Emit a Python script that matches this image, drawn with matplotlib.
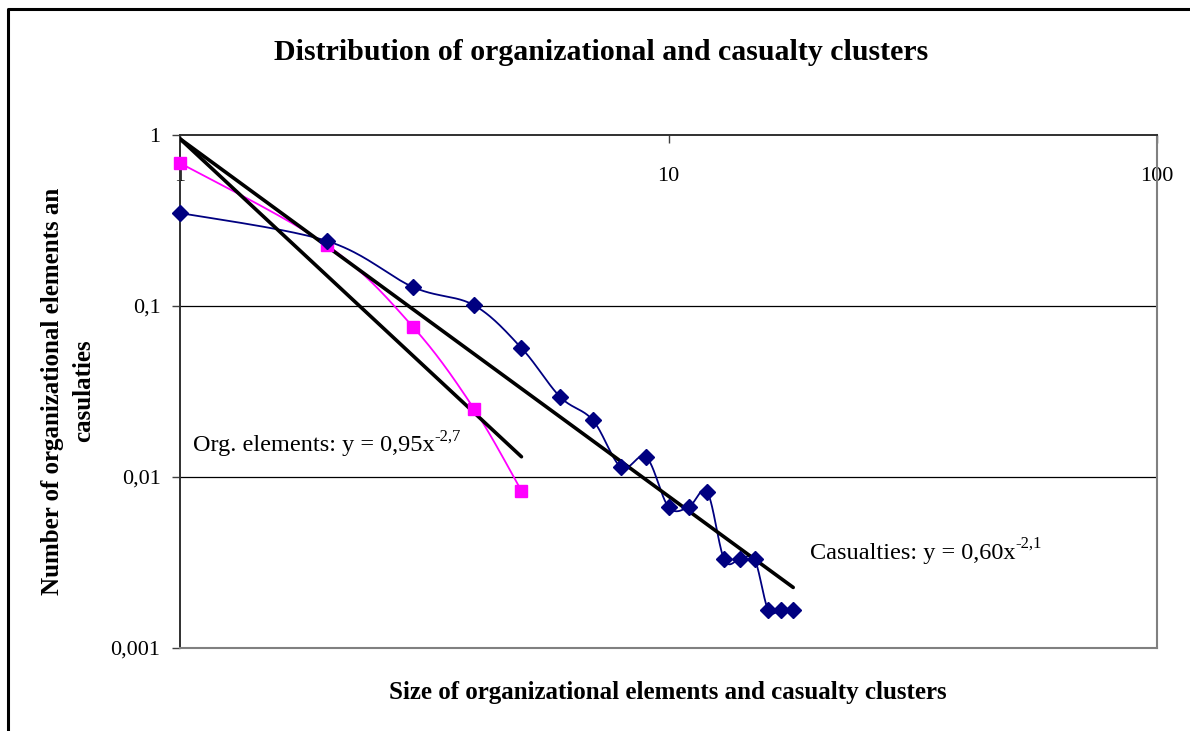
import numpy as np
import matplotlib
matplotlib.use('Agg')
import matplotlib.pyplot as plt
from matplotlib.lines import Line2D
from matplotlib.ticker import FixedLocator, FixedFormatter, NullLocator

plt.rcParams['font.family'] = ['Liberation Serif', 'DejaVu Serif']

# ---------------- data ----------------
org_size = [1, 2, 3, 4, 5]
org_share = [0.686, 0.227, 0.0754, 0.025, 0.0083]

cas_size = [1, 2, 3, 4, 5, 6, 7, 8, 9, 10, 11, 12, 13, 14, 15, 16, 17, 18]
cas_share = [0.35, 0.24, 0.129, 0.101, 0.0568, 0.0294, 0.0215, 0.0114, 0.0131,
             0.00668, 0.00668, 0.00817, 0.0033, 0.0033, 0.0033,
             0.00167, 0.00167, 0.00167]

# power-law trendlines as drawn: (coefficient, exponent), x-range
org_fit = (0.95, -2.66)
org_fit_range = (1, 5)
cas_fit = (0.95, -2.09)
cas_fit_range = (1, 18)

org_label = 'Org. elements: y = 0,95x'
org_label_sup = '-2,7'
cas_label = 'Casualties: y = 0,60x'
cas_label_sup = '-2,1'

x_ticks = [1, 10, 100]
x_tick_labels = ['1', '10', '100']
y_ticks = [0.001, 0.01, 0.1, 1]
y_tick_labels = ['0,001', '0,01', '0,1', '1']

title = 'Distribution of organizational and casualty clusters'
xlabel = 'Size of organizational elements and casualty clusters'
ylabel = 'Number of organizational elements an\ncasulaties'


def smooth(xs, ys, n=40):
    """Catmull-Rom style smoothing in log-log (screen) space."""
    P = np.column_stack([np.log10(xs), np.log10(ys)])
    out = []
    for i in range(len(P) - 1):
        p0 = P[i - 1] if i > 0 else P[i]
        p1 = P[i]
        p2 = P[i + 1]
        p3 = P[i + 2] if i + 2 < len(P) else P[i + 1]
        c1 = p1 + (p2 - p0) / 6.0
        c2 = p2 - (p3 - p1) / 6.0
        t = np.linspace(0, 1, n)[:, None]
        seg = ((1 - t) ** 3) * p1 + 3 * ((1 - t) ** 2) * t * c1 + 3 * (1 - t) * t ** 2 * c2 + t ** 3 * p2
        out.append(seg if i == 0 else seg[1:])
    S = np.vstack(out)
    return 10 ** S[:, 0], 10 ** S[:, 1]


fig = plt.figure(figsize=(11.9, 7.31), dpi=100)
ax = fig.add_axes([180 / 1190, 1 - 648 / 731, (1157 - 180) / 1190, (648 - 135) / 731])
ax.set_xscale('log')
ax.set_yscale('log')
ax.set_xlim(1, 100)
ax.set_ylim(0.001, 1)

# gridlines
for yv in [0.1, 0.01]:
    ax.axhline(yv, color='black', lw=0.9, zorder=1)

# trendlines
xf = np.array(org_fit_range, dtype=float)
ax.plot(xf, org_fit[0] * xf ** org_fit[1], color='black', lw=2.6, zorder=4, solid_capstyle='round')
xc = np.array(cas_fit_range, dtype=float)
ax.plot(xc, cas_fit[0] * xc ** cas_fit[1], color='black', lw=2.6, zorder=4, solid_capstyle='round')

# series
sx, sy = smooth(org_size, org_share)
ax.plot(sx, sy, color='#FF00FF', lw=1.3, zorder=3)
ax.plot(org_size, org_share, ls='none', marker='s', ms=8.5, color='#FF00FF', zorder=5, clip_on=False)

sx, sy = smooth(cas_size, cas_share)
ax.plot(sx, sy, color='#000080', lw=1.3, zorder=3)
ax.plot(cas_size, cas_share, ls='none', marker='D', ms=8, color='#000080', zorder=5, clip_on=False)

# ticks
ax.xaxis.set_major_locator(FixedLocator(x_ticks))
ax.xaxis.set_major_formatter(FixedFormatter(x_tick_labels))
ax.xaxis.set_minor_locator(NullLocator())
ax.yaxis.set_major_locator(FixedLocator(y_ticks))
ax.yaxis.set_major_formatter(FixedFormatter(y_tick_labels))
ax.yaxis.set_minor_locator(NullLocator())

ax.tick_params(axis='x', top=True, bottom=False, labeltop=True, labelbottom=False,
               direction='in', length=6, width=1, color='#404040', pad=-36.5, labelsize=16)
ax.tick_params(axis='y', direction='out', length=6, width=1, color='#404040', pad=8, labelsize=16)

for s in ['left', 'top']:
    ax.spines[s].set_color('#303030')
    ax.spines[s].set_linewidth(1.4)
for s in ['right', 'bottom']:
    ax.spines[s].set_color('#808080')
    ax.spines[s].set_linewidth(1.5)

# trendline labels (main text + superscript)
t1 = ax.text(0.0133, 0.394, org_label, transform=ax.transAxes, fontsize=17.5, va='center', ha='left')
ax.annotate(org_label_sup, xy=(1.0, 0.55), xycoords=t1, fontsize=12, va='bottom', ha='left')
t2 = ax.text(0.645, 0.185, cas_label, transform=ax.transAxes, fontsize=17.5, va='center', ha='left')
ax.annotate(cas_label_sup, xy=(1.0, 0.55), xycoords=t2, fontsize=12, va='bottom', ha='left')

# titles
fig.text(601 / 1190, 1 - 52 / 731, title, fontsize=21.5, fontweight='bold', ha='center', va='center')
fig.text(668 / 1190, 1 - 692 / 731, xlabel, fontsize=18, fontweight='bold', ha='center', va='center')
fig.text(68 / 1190, 1 - 391 / 731, ylabel, fontsize=18, fontweight='bold', ha='center', va='center',
         rotation=90, multialignment='center', linespacing=1.45)

# chart-area border (left and top visible)
fig.add_artist(Line2D([7.5 / 1190, 7.5 / 1190, 1.0], [0.0, 1 - 8.5 / 731, 1 - 8.5 / 731],
                      transform=fig.transFigure, color='black', lw=2.2))

fig.savefig('out.png', dpi=100)
